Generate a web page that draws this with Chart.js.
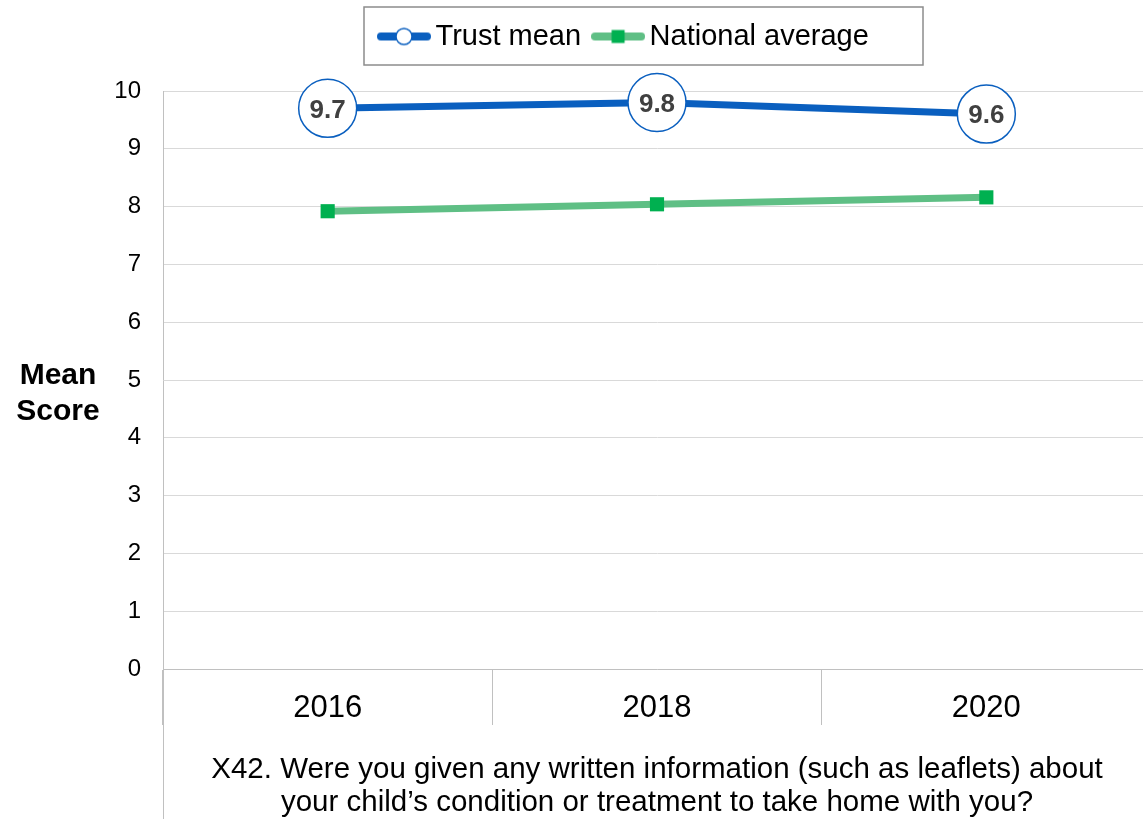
<!DOCTYPE html>
<html>
<head>
<meta charset="utf-8">
<script src="https://cdn.jsdelivr.net/npm/chart.js@4.4.1/dist/chart.umd.min.js"></script>
<style>
  html, body { margin: 0; padding: 0; overflow: hidden; background: #fff; }
</style>
</head>
<body>
<canvas id="lineChart" width="1152" height="819"></canvas>
<script>
const years = ['2016', '2018', '2020']
const trustMean = [9.7, 9.8, 9.6]
const nationalAverage = [7.92, 8.04, 8.16]
const yTicks = [0, 1, 2, 3, 4, 5, 6, 7, 8, 9, 10]
const xTitle = ['X42. Were you given any written information (such as leaflets) about', 'your child\u2019s condition or treatment to take home with you?']
const yTitle = ['Mean', 'Score']

const blue = '#0a5fbf'
const green = '#5fbf85'
const greenMark = '#00b050'
const FONT = 'Liberation Sans, Arial, sans-serif'

// little line+marker pictures for the legend
function legendIcon(kind) {
  const c = document.createElement('canvas')
  c.width = 54; c.height = 22
  const g = c.getContext('2d')
  g.lineCap = 'round'
  g.lineWidth = 8
  g.strokeStyle = kind == 'circle' ? blue : green
  g.beginPath(); g.moveTo(4, 11); g.lineTo(50, 11); g.stroke()
  if (kind == 'circle') {
    g.fillStyle = '#fff'; g.lineWidth = 1.5
    g.beginPath(); g.arc(27, 11, 8, 0, Math.PI * 2); g.fill(); g.stroke()
  } else {
    g.fillStyle = greenMark
    g.fillRect(20.5, 4.5, 13, 13)
  }
  return c
}
const icons = [legendIcon('circle'), legendIcon('square')]

const extras = {
  id: 'extras',
  afterLayout(chart) {
    // put the legend where the original sits
    const lg = chart.legend
    const p = chart.options.plugins.legend.labels.padding
    const startX = (lg.left + p + lg.right - lg.lineWidths[0]) / 2
    const dx = 387 - startX
    const dy = 2 - lg.top
    lg.left += dx
    lg.right += dx
    lg.top += dy
    lg.bottom += dy
  },
  afterDatasetsDraw(chart) {
    const ctx = chart.ctx
    const meta = chart.getDatasetMeta(0)
    ctx.save()
    ctx.font = 'bold 26px ' + FONT
    ctx.fillStyle = '#404040'
    ctx.textAlign = 'center'
    ctx.textBaseline = 'middle'
    meta.data.forEach((pt, i) => {
      ctx.fillText(trustMean[i].toFixed(1), pt.x, pt.y + 2)
    })
    ctx.restore()
  },
  afterDraw(chart) {
    const ctx = chart.ctx
    const area = chart.chartArea
    ctx.save()
    // long left line under the axis
    ctx.strokeStyle = '#c0c0c0'
    ctx.lineWidth = 1
    ctx.beginPath()
    ctx.moveTo(area.left + 0.5, area.bottom)
    ctx.lineTo(area.left + 0.5, chart.height)
    ctx.stroke()
    // legend border
    ctx.strokeStyle = '#8c8c8c'
    ctx.lineWidth = 1.5
    ctx.strokeRect(364, 7, 559, 58)
    // y axis title, horizontal
    ctx.font = 'bold 30px ' + FONT
    ctx.fillStyle = '#000'
    ctx.textAlign = 'center'
    ctx.textBaseline = 'middle'
    ctx.fillText(yTitle[0], 58, 376)
    ctx.fillText(yTitle[1], 58, 412)
    ctx.restore()
  }
}

const ctxL = document.getElementById('lineChart').getContext('2d')
const myLineChart = new Chart(ctxL, {
  type: 'line',
  data: {
    labels: years,
    datasets: [{
      label: 'Trust mean',
      data: trustMean,
      clip: false,
      borderColor: blue,
      borderWidth: 7,
      pointRadius: 29,
      pointHoverRadius: 29,
      pointBackgroundColor: '#fff',
      pointBorderColor: blue,
      pointBorderWidth: 1.5
    }, {
      label: 'National average',
      data: nationalAverage,
      clip: false,
      borderColor: green,
      borderWidth: 7,
      pointStyle: 'rect',
      pointRadius: 10,
      pointHoverRadius: 10,
      pointBackgroundColor: greenMark,
      pointBorderColor: greenMark,
      pointBorderWidth: 0
    }]
  },
  options: {
    responsive: false,
    animation: false,
    layout: { autoPadding: false, padding: { left: 0, top: 2, right: 1, bottom: 0 } },
    plugins: {
      tooltip: { enabled: false },
      legend: {
        position: 'top',
        labels: {
          usePointStyle: true,
          pointStyleWidth: 34,
          padding: 20,
          color: '#000',
          font: { family: FONT, size: 29 },
          generateLabels(chart) {
            return chart.data.datasets.map((ds, i) => ({
              text: ds.label,
              pointStyle: icons[i],
              fillStyle: 'transparent',
              strokeStyle: 'transparent',
              lineWidth: 0,
              datasetIndex: i
            }))
          }
        }
      }
    },
    scales: {
      x: {
        offset: true,
        grid: {
          offset: true,
          drawOnChartArea: false,
          drawTicks: true,
          tickLength: 56,
          color: '#c0c0c0'
        },
        border: { color: '#c0c0c0' },
        ticks: { color: '#000', font: { family: FONT, size: 31 }, padding: -35 },
        title: {
          display: true,
          text: xTitle,
          color: '#000',
          font: { family: FONT, size: 29.5, lineHeight: 1.12 },
          padding: { top: 0, bottom: 0 }
        },
        afterFit(scale) {
          scale.height = 150
          scale.paddingLeft = 0
          scale.paddingRight = 0
        }
      },
      y: {
        min: 0,
        max: 10,
        afterBuildTicks(scale) { scale.ticks = yTicks.map(v => ({ value: v })) },
        grid: { color: '#d9d9d9', drawTicks: false },
        border: { color: '#c0c0c0' },
        ticks: { color: '#000', font: { family: FONT, size: 24 }, padding: 22 },
        afterFit(scale) {
          scale.width = 163
          scale.paddingTop = 91
        }
      }
    }
  },
  plugins: [extras]
})
</script>
</body>
</html>
